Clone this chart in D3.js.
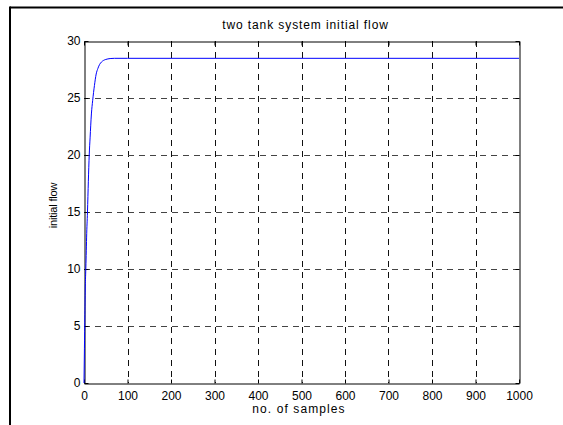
<!DOCTYPE html>
<html><head><meta charset="utf-8">
<script src="https://cdn.jsdelivr.net/npm/d3@7"></script>
<style>body{margin:0;background:#fff}svg{display:block}text{font-family:"Liberation Sans",Arial,sans-serif;fill:#000}</style>
</head><body><svg id="c" width="563" height="425"></svg>
<script>
const title = "two tank system initial flow";
const xLabel = "no. of samples";
const yLabel = "initial flow";
const xTicks = [0,100,200,300,400,500,600,700,800,900,1000];
const yTicks = [0,5,10,15,20,25,30];
const samples = [0,1,2,3,4,5,6,8,10,12,14,17,20,24,28,32,36,40,45,50,55,60,70,100,1000];
const flow = [0,3,6,8.5,9.8,11.2,12.8,15,17.7,20,21.5,23.6,24.8,26.1,27.1,27.6,27.95,28.15,28.3,28.38,28.43,28.46,28.48,28.48,28.48];

const svg = d3.select("#c");
const L=84,R=519,T=41,B=383;
const x = d3.scaleLinear().domain([0,1000]).range([L,R]);
const y = d3.scaleLinear().domain([0,30]).range([B,T]);

// outer partial frame
svg.append("line").attr("x1",10).attr("x2",563).attr("y1",7.5).attr("y2",7.5).attr("stroke","#000").attr("stroke-width",2);
svg.append("line").attr("x1",10).attr("x2",10).attr("y1",6.5).attr("y2",425).attr("stroke","#000").attr("stroke-width",2);

// grid
const g = svg.append("g");
g.selectAll(".vg").data(xTicks.slice(1,-1)).join("line")
 .attr("x1",d=>Math.round(x(d))+0.5).attr("x2",d=>Math.round(x(d))+0.5).attr("y1",T).attr("y2",B)
 .attr("stroke","#111").attr("stroke-dasharray","6,5");
g.selectAll(".hg").data(yTicks.slice(1,-1)).join("line")
 .attr("y1",d=>Math.round(y(d))+0.5).attr("y2",d=>Math.round(y(d))+0.5).attr("x1",L).attr("x2",R)
 .attr("stroke","#444").attr("stroke-dasharray","6,5");

// axes with inward ticks
const fmt = d3.format("d");
svg.append("g").attr("transform",`translate(0,${B+0.5})`).call(d3.axisBottom(x).tickValues(xTicks).tickFormat(fmt).tickSizeInner(-4).tickSizeOuter(0).tickPadding(8));
svg.append("g").attr("transform",`translate(0,${T+0.5})`).call(d3.axisTop(x).tickValues(xTicks).tickFormat("").tickSizeInner(-4).tickSizeOuter(0));
svg.append("g").attr("transform",`translate(${L+0.5},0)`).call(d3.axisLeft(y).tickValues(yTicks).tickFormat(fmt).tickSizeInner(-4).tickSizeOuter(0).tickPadding(4));
svg.append("g").attr("transform",`translate(${R+0.5},0)`).call(d3.axisRight(y).tickValues(yTicks).tickFormat("").tickSizeInner(-4).tickSizeOuter(0));
svg.selectAll(".domain, .tick line").attr("stroke","#000");
svg.selectAll(".tick text").attr("font-size",12).attr("font-family","Liberation Sans, Arial, sans-serif").attr("fill","#000");

// line
const line = d3.line().x((d,i)=>x(samples[i])).y(d=>y(d)).curve(d3.curveMonotoneX);
svg.append("path").datum(flow).attr("d",line).attr("fill","none").attr("stroke","#0000ff").attr("stroke-width",1);

// texts
svg.append("text").attr("x",305.5).attr("y",29).attr("text-anchor","middle").attr("font-size",12).attr("letter-spacing","0.9px").text(title);
svg.append("text").attr("x",299).attr("y",413).attr("text-anchor","middle").attr("font-size",12).attr("letter-spacing","1.1px").text(xLabel);
svg.append("text").attr("transform","translate(56.5,205.5) rotate(-90)").attr("text-anchor","middle").attr("font-size",11).attr("letter-spacing","-0.2px").text(yLabel);
</script></body></html>
